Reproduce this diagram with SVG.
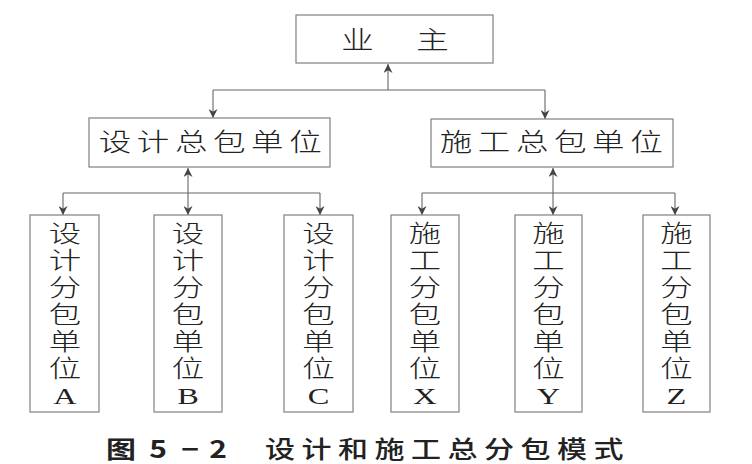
<svg xmlns="http://www.w3.org/2000/svg" width="752" height="464" viewBox="0 0 752 464">
<defs>
<marker id="ah" viewBox="0 0 10 10" refX="10" refY="5" markerWidth="10" markerHeight="9" markerUnits="userSpaceOnUse" orient="auto-start-reverse">
<path d="M0,0 L10,5 L0,10 L3,5 Z" fill="#444"/>
</marker>
<style>
.box{fill:#fff;stroke:#8a8a8a;stroke-width:1.3}
.ln{fill:none;stroke:#666;stroke-width:1.1}
.t{font-family:"Noto Sans CJK SC","Noto Sans CJK JP",sans-serif;font-weight:300;font-size:25px;fill:#222;text-anchor:middle}
.v{font-family:"Noto Sans CJK SC","Noto Sans CJK JP",sans-serif;font-weight:300;font-size:24px;fill:#222;text-anchor:middle}
.l{font-family:"Liberation Serif",serif;font-size:24px}
.cap{font-family:"Noto Sans CJK SC",sans-serif;font-weight:500;font-size:24px;fill:#222}
.capb{font-family:"Noto Sans CJK SC",sans-serif;font-weight:700;font-size:24px;fill:#222;text-anchor:middle}
</style>
</defs>
<rect width="752" height="464" fill="#fff"/>
<g id="connectors">
<path class="ln" d="M388,90 V64" marker-end="url(#ah)"/>
<path class="ln" d="M213,90 H545"/>
<path class="ln" d="M213,90 V118" marker-end="url(#ah)"/>
<path class="ln" d="M545,90 V119" marker-end="url(#ah)"/>
<path class="ln" d="M188,168 V215" marker-start="url(#ah)" marker-end="url(#ah)"/>
<path class="ln" d="M63,193 H320"/>
<path class="ln" d="M63,193 V215" marker-end="url(#ah)"/>
<path class="ln" d="M320,193 V215" marker-end="url(#ah)"/>
<path class="ln" d="M553,168 V215" marker-start="url(#ah)" marker-end="url(#ah)"/>
<path class="ln" d="M422,193 H675"/>
<path class="ln" d="M422,193 V215" marker-end="url(#ah)"/>
<path class="ln" d="M675,193 V215" marker-end="url(#ah)"/>
</g>
<g id="owner">
<rect class="box" x="296" y="15" width="197" height="48"/>
<text class="t" transform="translate(357.5,49) scale(1.3,1)">业</text>
<text class="t" transform="translate(432.5,49) scale(1.3,1)">主</text>
</g>
<g id="design-gc">
<rect class="box" x="89" y="118" width="241" height="49"/>
<text class="t" letter-spacing="4.3" transform="translate(213,151) scale(1.3,1)">设计总包单位</text>
</g>
<g id="construction-gc">
<rect class="box" x="431" y="119" width="242" height="48"/>
<text class="t" letter-spacing="4.3" transform="translate(554,151) scale(1.3,1)">施工总包单位</text>
</g>
<g id="sub-A">
<rect class="box" x="30" y="215" width="69" height="197"/>
<text class="v" transform="translate(65,242) scale(1.35,1)"><tspan x="0" y="0">设</tspan><tspan x="0" dy="27">计</tspan><tspan x="0" dy="27">分</tspan><tspan x="0" dy="27">包</tspan><tspan x="0" dy="27">单</tspan><tspan x="0" dy="27">位</tspan><tspan class="l" x="0" dy="27">A</tspan></text>
</g>
<g id="sub-B">
<rect class="box" x="154" y="215" width="68" height="197"/>
<text class="v" transform="translate(188,242) scale(1.35,1)"><tspan x="0" y="0">设</tspan><tspan x="0" dy="27">计</tspan><tspan x="0" dy="27">分</tspan><tspan x="0" dy="27">包</tspan><tspan x="0" dy="27">单</tspan><tspan x="0" dy="27">位</tspan><tspan class="l" x="0" dy="27">B</tspan></text>
</g>
<g id="sub-C">
<rect class="box" x="284" y="215" width="69" height="197"/>
<text class="v" transform="translate(318.5,242) scale(1.35,1)"><tspan x="0" y="0">设</tspan><tspan x="0" dy="27">计</tspan><tspan x="0" dy="27">分</tspan><tspan x="0" dy="27">包</tspan><tspan x="0" dy="27">单</tspan><tspan x="0" dy="27">位</tspan><tspan class="l" x="0" dy="27">C</tspan></text>
</g>
<g id="sub-X">
<rect class="box" x="391" y="215" width="68" height="197"/>
<text class="v" transform="translate(425,242) scale(1.35,1)"><tspan x="0" y="0">施</tspan><tspan x="0" dy="27">工</tspan><tspan x="0" dy="27">分</tspan><tspan x="0" dy="27">包</tspan><tspan x="0" dy="27">单</tspan><tspan x="0" dy="27">位</tspan><tspan class="l" x="0" dy="27">X</tspan></text>
</g>
<g id="sub-Y">
<rect class="box" x="515" y="215" width="67" height="197"/>
<text class="v" transform="translate(548.5,242) scale(1.35,1)"><tspan x="0" y="0">施</tspan><tspan x="0" dy="27">工</tspan><tspan x="0" dy="27">分</tspan><tspan x="0" dy="27">包</tspan><tspan x="0" dy="27">单</tspan><tspan x="0" dy="27">位</tspan><tspan class="l" x="0" dy="27">Y</tspan></text>
</g>
<g id="sub-Z">
<rect class="box" x="643" y="215" width="67" height="197"/>
<text class="v" transform="translate(676.5,242) scale(1.35,1)"><tspan x="0" y="0">施</tspan><tspan x="0" dy="27">工</tspan><tspan x="0" dy="27">分</tspan><tspan x="0" dy="27">包</tspan><tspan x="0" dy="27">单</tspan><tspan x="0" dy="27">位</tspan><tspan class="l" x="0" dy="27">Z</tspan></text>
</g>
<g id="caption">
<text class="capb" transform="translate(121,458) scale(1.25,1)">图</text>
<text class="capb" transform="translate(158,458) scale(1.25,1)">5</text>
<text class="capb" transform="translate(190,458) scale(1.25,1)">−</text>
<text class="capb" transform="translate(218,458) scale(1.25,1)">2</text>
<text class="cap" letter-spacing="5.2" transform="translate(265,458) scale(1.25,1)">设计和施工总分包模式</text>
</g>
</svg>
